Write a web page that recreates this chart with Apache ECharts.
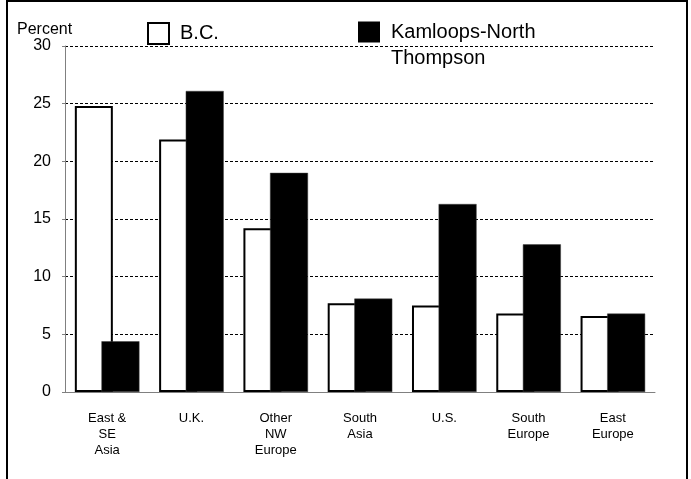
<!DOCTYPE html>
<html>
<head>
<meta charset="utf-8">
<script src="https://cdn.jsdelivr.net/npm/echarts@6/dist/echarts.min.js"></script>
<style>
  html, body { margin: 0; padding: 0; background: #fff; }
  #chart { width: 691px; height: 479px; }
</style>
</head>
<body>
<div id="chart"></div>
<script>
// categories on the x axis
var regions = ["East &\nSE\nAsia", "U.K.", "Other\nNW\nEurope", "South\nAsia", "U.S.", "South\nEurope", "East\nEurope"];
// percent of immigrants by origin
var bcValues = [24.8, 21.9, 14.2, 7.7, 7.5, 6.8, 6.6];
var kntValues = [4.4, 26.1, 19.0, 8.1, 16.3, 12.8, 6.8];
var yTicks = [0, 5, 10, 15, 20, 25, 30];

var font = "Liberation Sans, Arial, sans-serif";
var chart = echarts.init(document.getElementById("chart"));

chart.setOption({
  animation: false,
  textStyle: { fontFamily: font, color: "#000" },
  title: {
    text: "Percent",
    left: 12,
    top: 17,
    textStyle: { fontFamily: font, fontSize: 16, fontWeight: "normal", color: "#000" }
  },
  legend: [
    {
      data: ["B.C."],
      left: 147,
      top: 22,
      padding: 0,
      itemWidth: 21,
      itemHeight: 21,
      icon: "rect",
      itemStyle: { color: "#fff", borderColor: "#000", borderWidth: 2 },
      textStyle: { fontFamily: font, fontSize: 20, color: "#000", padding: [0, 0, 0, 6] }
    },
    {
      data: ["Kamloops-North Thompson"],
      left: 358,
      top: -7,
      padding: 0,
      itemWidth: 22,
      itemHeight: 21,
      icon: "rect",
      itemStyle: { color: "#000", borderWidth: 0 },
      // blank first line keeps "Kamloops-North" level with the icon
      formatter: function () { return " \nKamloops-North\nThompson"; },
      textStyle: { fontFamily: font, fontSize: 20, color: "#000", lineHeight: 26, padding: [0, 0, 0, 6] }
    }
  ],
  grid: { left: 65, right: 36, top: 46, bottom: 87 },
  xAxis: {
    type: "category",
    data: regions,
    axisLine: { lineStyle: { color: "#808080", width: 1 } },
    axisTick: { show: false },
    axisLabel: { interval: 0, fontFamily: font, fontSize: 13, lineHeight: 16, color: "#000", margin: 18 }
  },
  yAxis: {
    type: "value",
    min: yTicks[0],
    max: yTicks[yTicks.length - 1],
    interval: 5,
    axisLine: { show: true, lineStyle: { color: "#808080", width: 1 } },
    axisTick: { show: true, length: 3, lineStyle: { color: "#808080" } },
    axisLabel: { fontFamily: font, fontSize: 16, color: "#000", margin: 14 },
    splitLine: { lineStyle: { color: "#000", type: [3, 2], width: 1 } }
  },
  series: [
    {
      name: "B.C.",
      type: "bar",
      data: bcValues,
      barWidth: 38,
      barGap: "-30%",
      itemStyle: { color: "#fff", borderColor: "#000", borderWidth: 2 }
    },
    {
      name: "Kamloops-North Thompson",
      type: "bar",
      data: kntValues,
      barWidth: 38,
      barGap: "-30%",
      itemStyle: { color: "#000", borderColor: "#404040", borderWidth: 0.5 }
    }
  ],
  graphic: [
    {
      type: "rect",
      z: -1,
      shape: { x: 7, y: 1, width: 680, height: 500 },
      style: { fill: "none", stroke: "#000", lineWidth: 2 }
    }
  ]
});
</script>
</body>
</html>
